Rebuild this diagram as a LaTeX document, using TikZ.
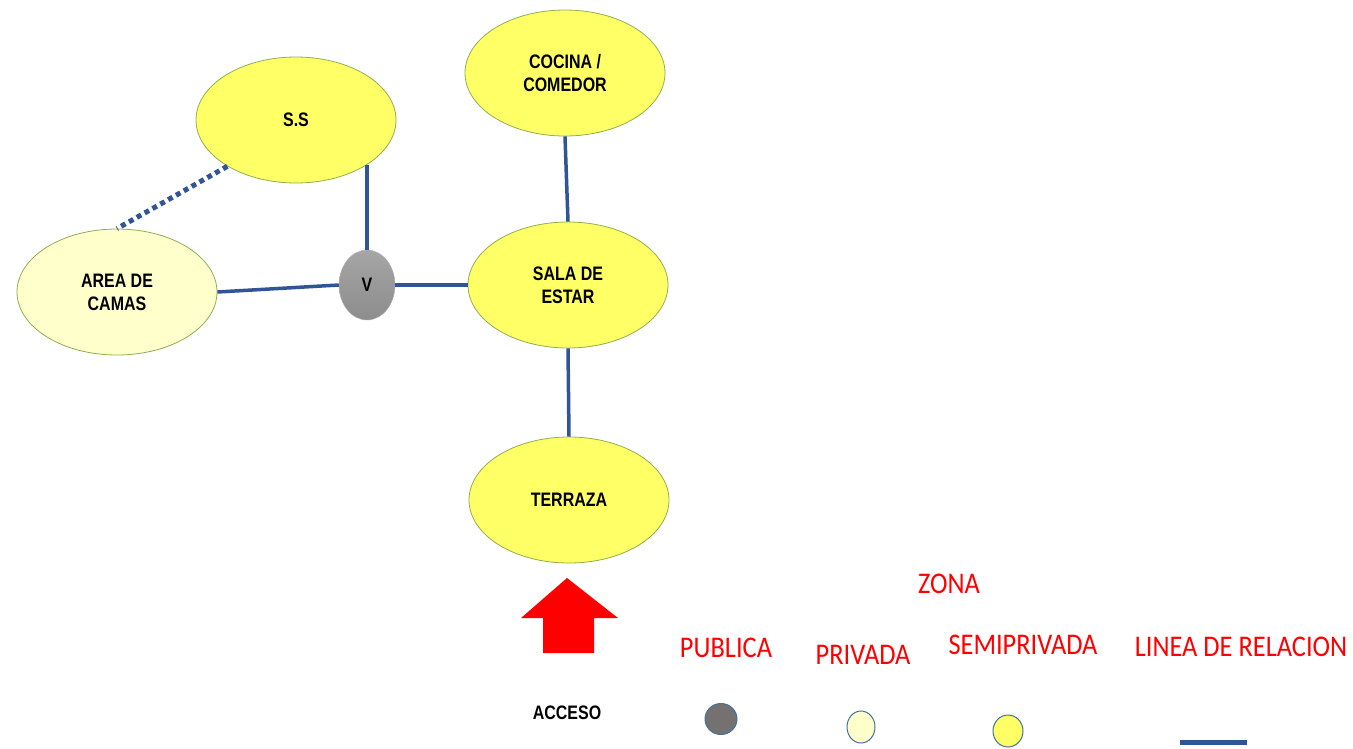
\documentclass[tikz,border=0pt]{standalone}
\usepackage{fontspec}
\usetikzlibrary{shapes.geometric}
\setmainfont{Liberation Sans}
\newfontfamily\labfont{Liberation Sans}[FakeStretch=0.82]
\newfontfamily\redfont{Carlito}[FakeStretch=0.88]
\definecolor{semiy}{HTML}{FFFF66}
\definecolor{privy}{HTML}{FFFFCC}
\definecolor{edgeg}{HTML}{8FAF4F}
\definecolor{relblue}{HTML}{2F5597}
\definecolor{legblue}{HTML}{41719C}
\definecolor{pubgray}{HTML}{767171}
\tikzset{
  room/.style={ellipse, draw=edgeg, line width=0.8pt, inner sep=0pt,
    minimum width=200pt, minimum height=126pt, align=center,
    font=\labfont\bfseries\fontsize{19.5}{23}\selectfont},
  semi/.style={room, fill=semiy},
  priv/.style={room, fill=privy},
  rel/.style={draw=relblue, line width=3.5pt},
  reldot/.style={draw=relblue, line width=5pt, dash pattern=on 5pt off 4pt},
  redlab/.style={text=red, font=\redfont\fontsize{30}{34}\selectfont, inner sep=0pt},
  leg/.style={ellipse, draw=legblue, line width=1pt, inner sep=0pt}
}
\begin{document}
\begin{tikzpicture}[x=1pt,y=-1pt]
\useasboundingbox (0,0) rectangle (1353,748);
% rooms
\node[semi] (SS) at (296,120) {S.S};
\node[priv] (CAMAS) at (117,292) {AREA DE\\CAMAS};
\node[ellipse, inner sep=0pt, minimum width=56pt, minimum height=70pt,
  top color=gray!70, bottom color=gray!110!black, draw=gray!60,
  font=\labfont\bfseries\fontsize{19.5}{23}\selectfont] (V) at (367,285) {V};
\node[semi] (COC) at (565,73) {COCINA /\\COMEDOR};
\node[semi] (SALA) at (568,285) {SALA DE\\ESTAR};
\node[semi] (TER) at (569,500) {TERRAZA};
% connectors
\draw[rel] (V.north) -- (V.north |- SS.-33);
\draw[reldot] (SS.-146) -- (CAMAS.north);
\draw[rel] (CAMAS.east) -- (V.west);
\draw[rel] (V.east) -- (SALA.west);
\draw[rel] (COC.south) -- (SALA.north);
\draw[rel] (SALA.south) -- (TER.north);
% access arrow
\fill[red] (567,578) -- (618,618) -- (594,618) -- (594,653) -- (543,653) -- (543,618) -- (521,618) -- cycle;
\node[font=\labfont\bfseries\fontsize{19.5}{23}\selectfont, inner sep=0pt] (acc) at (567,713) {ACCESO};
% legend
\node[redlab] (zona) at (949,584) {ZONA};
\node[redlab] (pub) at (726,648) {PUBLICA};
\node[redlab] (pri) at (863,655) {PRIVADA};
\node[redlab] (sem) at (1023,645) {SEMIPRIVADA};
\node[redlab] (lin) at (1241,647) {LINEA DE RELACION};
\node[leg, fill=pubgray, minimum width=32pt, minimum height=31pt] (lpub) at (721,719) {};
\node[leg, fill=privy, minimum width=28pt, minimum height=32pt] (lpri) at (861,727) {};
\node[leg, fill=semiy, minimum width=30pt, minimum height=32pt] (lsem) at (1008,731) {};
\coordinate (la) at (1180,742);
\coordinate (lb) at (1247,742);
\draw[draw=relblue, line width=5pt] (la) -- (lb);
\end{tikzpicture}
\end{document}
